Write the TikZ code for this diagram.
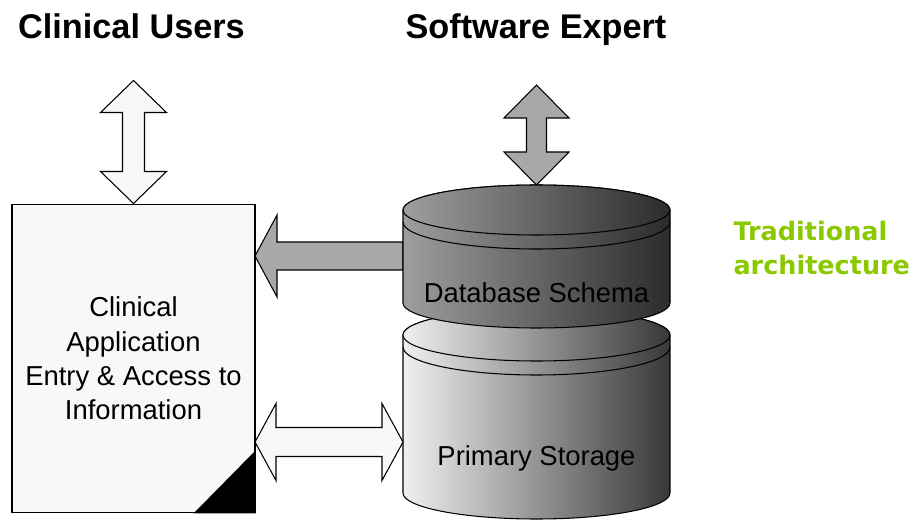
\documentclass[tikz,border=0pt]{standalone}
\usepackage{fontspec}
\setmainfont{Liberation Sans}
\newfontfamily\notefont{DejaVu Sans}
\definecolor{paper}{HTML}{F8F8F8}
\definecolor{arrowgray}{HTML}{A8A8A8}
\definecolor{notegreen}{RGB}{138,200,0}

\begin{document}
\begin{tikzpicture}[
		x=0.02cm, y=0.02cm,
		line width=0.6pt,
		every node/.style={inner sep=0pt},
		title/.style={font=\bfseries\fontsize{19.5}{23}\selectfont, anchor=base},
		appbox/.style={draw, fill=paper, minimum width=4.86cm, minimum height=6.18cm, align=center, font=\fontsize{15.6}{19.5}\selectfont},
		dblabel/.style={font=\fontsize{15.6}{19.5}\selectfont, anchor=base},
		blockarrow/.style={draw, fill=#1, line join=miter},
		schemafill/.style={left color=black!38, right color=black!83},
		storagefill/.style={left color=black!6, right color=black!78}
		]
		\useasboundingbox (0,0) rectangle (916,521);

		\node[title] (users) at (131.5,482) {Clinical Users};
		\node[title] (expert) at (536,482) {Software Expert};

		\node[appbox] (app) at (133.5,162.5) {Clinical\\Application\\Entry \& Access to\\Information};
		\fill (app.south east) -- ++(0,63) -- ++(-62,-63) -- cycle;

		\coordinate (schema top) at (536.5,336);
		\coordinate (schema west) at (403,265);
		\coordinate (storage west) at (403,79);

		\draw[blockarrow=paper] (app.north) -- ++(33,32) -- ++(-22,0) -- ++(0,59) -- ++(22,0) -- ++(-33,32)
			-- ++(-33,-32) -- ++(22,0) -- ++(0,-59) -- ++(-22,0) -- cycle;
		\draw[blockarrow=arrowgray] (schema top) -- ++(32.5,33) -- ++(-22.5,0) -- ++(0,34) -- ++(22.5,0) -- ++(-32.5,33)
			-- ++(-32.5,-33) -- ++(22.5,0) -- ++(0,-34) -- ++(-22.5,0) -- cycle;

		\path[draw, storagefill] (403,186) -- (403,28) arc[start angle=180, end angle=360, x radius=133.5, y radius=26]
			-- (670,186) arc[start angle=0, end angle=180, x radius=133.5, y radius=26] -- cycle;
		\path[draw, storagefill] (536.5,186) ellipse[x radius=133.5, y radius=26];
		\draw (403,174) arc[start angle=180, end angle=360, x radius=133.5, y radius=28];

		\draw[blockarrow=arrowgray] (schema west) -- ++(0,14) -- ++(-126,0) -- ++(0,27) -- ++(-22,-41)
			-- ++(22,-41) -- ++(0,27) -- ++(126,0) -- cycle;

		\path[draw, schemafill] (403,311) -- (403,218) arc[start angle=180, end angle=360, x radius=133.5, y radius=25]
			-- (670,311) arc[start angle=0, end angle=180, x radius=133.5, y radius=25] -- cycle;
		\path[draw, schemafill] (536.5,311) ellipse[x radius=133.5, y radius=25];
		\draw (403,299) arc[start angle=180, end angle=360, x radius=133.5, y radius=27];

		\draw[blockarrow=paper] (storage west) -- ++(-21,38.5) -- ++(0,-24) -- ++(-106,0) -- ++(0,24) -- ++(-21,-38.5)
			-- ++(21,-38.5) -- ++(0,24) -- ++(106,0) -- ++(0,-24) -- cycle;

		\node[dblabel] (schema) at (536.5,218) {Database Schema};
		\node[dblabel] (storage) at (536.5,56) {Primary Storage};

		\node[anchor=west, align=left, text=notegreen, font=\notefont\bfseries\fontsize{14.5}{19.5}\selectfont] (note) at (733,273) {Traditional\\architecture};
\end{tikzpicture}
\end{document}
